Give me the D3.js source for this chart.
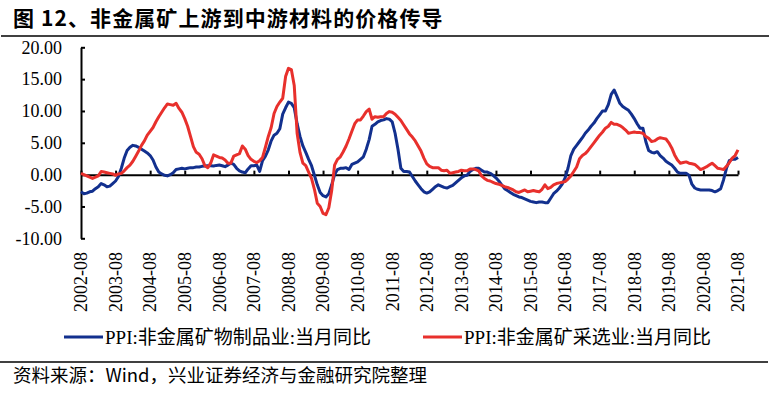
<!doctype html>
<html>
<head>
<meta charset="UTF-8">
<title>非金属矿价格传导</title>
<script src="https://d3js.org/d3.v7.min.js"></script>
<style>
  body { margin: 0; background: #fff; }
  svg text { fill: #000; }
</style>
</head>
<body>
<svg id="chart" width="777" height="394"></svg>
<script>
// 非金属矿物制品业 PPI 当月同比 (2002-08 .. 2021-08, monthly)
var blueVals = [
  -2.7, -3.0, -2.9, -2.7, -2.6, -2.2, -1.9, -1.4, -1.6, -1.9, -1.8, -1.4,
  -1.0, -0.3, 1.0, 2.6, 3.8, 4.3, 4.6, 4.5, 4.3, 4.0, 3.7, 3.4,
  3.0, 2.3, 1.2, 0.4, 0.1, -0.1, -0.2, 0.0, 0.3, 0.8, 0.9, 1.0,
  0.9, 1.0, 1.1, 1.1, 1.2, 1.2, 1.3, 1.35, 1.4, 1.4, 1.35, 1.45,
  1.5, 1.4, 1.25, 1.5, 1.8, 1.6, 1.0, 0.6, 0.4, 0.3, 0.9, 1.4,
  1.4, 1.5, 0.5, 2.2, 2.9, 3.9, 5.3, 6.2, 6.5, 7.2, 9.5, 10.5,
  11.4, 11.2, 10.5, 8.0, 6.0, 4.5, 3.5, 2.4, 1.4, -0.1, -1.6, -2.8,
  -3.3, -3.5, -3.0, -1.6, 0.0, 0.8, 1.0, 1.0, 1.1, 0.8, 1.6, 1.8,
  2.0, 2.4, 2.8, 4.0, 5.5, 7.6, 7.9, 8.3, 8.5, 8.6, 8.8, 8.7,
  8.3, 6.5, 4.0, 1.0, 0.5, 0.5, 0.4, -0.3, -1.0, -1.6, -2.2, -2.7,
  -2.9, -2.7, -2.3, -1.9, -1.6, -1.8, -2.0, -2.1, -1.9, -1.7, -1.3, -0.9,
  -0.5, -0.2, -0.1, 0.5, 0.8, 1.0, 1.0, 0.7, 0.4, 0.4, 0.2, -0.1,
  -0.5, -1.0, -1.6, -2.2, -2.5, -2.8, -3.1, -3.3, -3.5, -3.6, -3.8, -4.0,
  -4.2, -4.3, -4.4, -4.3, -4.3, -4.4, -4.4, -3.7, -3.0, -2.6, -2.1, -1.5,
  -0.5, 1.0, 3.0, 4.0, 4.6, 5.2, 5.8, 6.5, 7.0, 7.6, 8.1, 8.8,
  9.4, 10.0, 10.0, 11.0, 12.6, 13.3, 12.3, 11.2, 10.7, 10.4, 10.1, 9.5,
  8.8, 8.0, 7.3, 7.3, 5.2, 3.8, 3.5, 3.4, 3.6, 3.0, 2.6, 2.1,
  1.8, 1.5, 1.0, 0.4, 0.2, 0.2, 0.2, -0.1, -1.5, -2.1, -2.3, -2.4,
  -2.4, -2.4, -2.4, -2.5, -2.7, -2.5, -2.2, -0.8, 1.0, 2.2, 2.4, 2.4, 2.7
];

// 非金属矿采选业 PPI 当月同比
var redVals = [
  0.2, 0.0, -0.2, -0.4, -0.6, -0.4, -0.2, 0.5, 0.4, 0.3, 0.2, 0.1,
  -0.1, 0.1, 0.2, 0.6, 1.1, 1.5, 2.1, 2.9, 3.7, 4.6, 5.3, 6.2,
  6.8, 7.4, 8.3, 9.1, 9.8, 10.5, 11.1, 11.0, 10.9, 11.2, 10.4, 9.8,
  8.8, 7.6, 6.0, 4.4, 3.5, 3.2, 2.5, 1.4, 1.1, 1.8, 3.1, 2.9,
  2.7, 2.6, 2.3, 1.8, 1.8, 2.9, 3.1, 3.3, 4.5, 4.0, 3.0, 2.4,
  2.1, 1.9, 2.2, 2.7, 4.3, 6.0, 7.4, 9.6, 10.7, 11.4, 12.0, 15.4,
  16.7, 16.5, 14.0, 6.5, 3.5, 1.8, 1.4, 0.4, -0.6, -2.3, -4.5, -5.0,
  -6.1, -6.3, -5.2, -2.5, 1.5, 2.4, 2.8, 3.6, 4.5, 5.6, 6.8, 8.0,
  8.6, 8.6, 9.2, 9.9, 10.3, 8.7, 9.1, 9.0, 9.1, 9.1, 9.6, 9.9,
  9.8, 9.5, 9.0, 8.5, 7.8, 7.1, 6.4, 5.9, 5.3, 4.5, 3.7, 2.6,
  1.7, 1.3, 1.1, 1.1, 1.1, 0.7, 0.6, 0.7, 0.2, 0.3, 0.4, 0.5,
  0.7, 0.6, 0.6, 0.9, 0.9, 0.8, 0.6, -0.2, -0.6, -0.9, -1.0, -1.2,
  -1.4, -1.5, -1.7, -1.9, -2.0, -2.2, -2.4, -2.7, -2.8, -2.6, -2.4, -2.7,
  -2.6, -2.5, -2.6, -2.7, -2.3, -1.6, -2.2, -2.0, -1.6, -1.4, -1.3, -1.2,
  -1.1, -0.7, -0.2, 0.5, 1.2, 2.5, 3.0, 3.3, 3.8, 4.4, 5.0, 5.6,
  6.2, 6.7, 7.3, 7.6, 8.2, 7.9, 7.9, 7.7, 7.4, 7.0, 6.5, 6.6,
  6.7, 6.6, 6.6, 6.5, 6.0, 5.7, 5.2, 5.3, 5.6, 5.8, 5.7, 5.6,
  5.0, 4.2, 3.1, 2.3, 1.8, 1.9, 2.0, 1.8, 1.7, 1.6, 1.2, 0.8,
  1.0, 1.2, 1.5, 1.8, 1.4, 1.0, 0.9, 0.8, 1.3, 1.9, 2.6, 3.0, 3.9
];

var tickLabels = ["2002-08", "2003-08", "2004-08", "2005-08", "2006-08", "2007-08",
  "2008-08", "2009-08", "2010-08", "2011-08", "2012-08", "2013-08", "2014-08",
  "2015-08", "2016-08", "2017-08", "2018-08", "2019-08", "2020-08", "2021-08"];
var yTicks = [-10, -5, 0, 5, 10, 15, 20];

var seriesNames = ["PPI:非金属矿物制品业:当月同比", "PPI:非金属矿采选业:当月同比"];
var colors = ["#12308e", "#e8302c"];

var title = "图 12、非金属矿上游到中游材料的价格传导";
var source = "资料来源：Wind，兴业证券经济与金融研究院整理";

// monthly category labels
var fmt = d3.timeFormat("%Y-%m");
var months = d3.timeMonth.range(new Date(2002, 7, 1), new Date(2021, 8, 1)).map(fmt);

var svg = d3.select("#chart");
var serif = "'Liberation Serif','Times New Roman','Noto Sans CJK SC',serif";

var x = d3.scalePoint().domain(months).range([81, 738]);
var y = d3.scaleLinear().domain([-10, 20]).range([238.3, 47.3]);

// title
svg.append("text")
   .attr("x", 13).attr("y", 26)
   .attr("font-family", "'Noto Sans CJK SC',sans-serif")
   .attr("font-weight", "bold")
   .attr("font-size", 21)
   .attr("letter-spacing", 1.1)
   .text(title);

svg.append("line")
   .attr("x1", 1).attr("x2", 769).attr("y1", 36).attr("y2", 36)
   .attr("stroke", "#000").attr("stroke-width", 1.6);

// y axis
var yAxis = svg.append("g")
   .attr("transform", "translate(81,0)")
   .call(d3.axisLeft(y).tickValues(yTicks)
      .tickSizeInner(-4).tickSizeOuter(0).tickPadding(19)
      .tickFormat(function(d){ return d.toFixed(2); }));
yAxis.selectAll("path,line").attr("stroke", "#000").attr("stroke-width", 2);
yAxis.selectAll("text")
   .attr("font-family", serif).attr("font-size", 18).attr("fill", "#000");

// zero axis
var xAxis = svg.append("g")
   .attr("transform", "translate(0," + y(0) + ")")
   .call(d3.axisBottom(x).tickValues(tickLabels)
      .tickSizeInner(-4).tickSizeOuter(0).tickFormat(""));
xAxis.selectAll("path,line").attr("stroke", "#000").attr("stroke-width", 2);

// x labels, rotated
svg.append("g").selectAll("text")
   .data(tickLabels)
   .enter().append("text")
   .attr("transform", function(d){ return "translate(" + x(d) + ",252) rotate(-90)"; })
   .attr("text-anchor", "end")
   .attr("dy", "0.35em")
   .attr("font-family", serif)
   .attr("font-size", 18)
   .text(function(d){ return d; });

// lines
var line = d3.line()
   .x(function(d, i){ return x(months[i]); })
   .y(function(d){ return y(d); });

[blueVals, redVals].forEach(function(vals, k){
    svg.append("path")
       .datum(vals)
       .attr("d", line)
       .attr("fill", "none")
       .attr("stroke", colors[k])
       .attr("stroke-width", 3)
       .attr("stroke-linejoin", "round");
});

// legend
var legendX = [64, 423];
seriesNames.forEach(function(name, k){
    svg.append("line")
       .attr("x1", legendX[k]).attr("x2", legendX[k] + 39)
       .attr("y1", 337).attr("y2", 337)
       .attr("stroke", colors[k]).attr("stroke-width", 3);
    svg.append("text")
       .attr("x", legendX[k] + 41).attr("y", 337)
       .attr("dy", "0.35em")
       .attr("font-family", serif)
       .attr("font-size", 19)
       .text(name);
});

svg.append("line")
   .attr("x1", 0).attr("x2", 768).attr("y1", 362).attr("y2", 362)
   .attr("stroke", "#000").attr("stroke-width", 1.6);

svg.append("text")
   .attr("x", 13).attr("y", 376)
   .attr("dy", "0.35em")
   .attr("font-family", "'Noto Sans CJK SC',sans-serif")
   .attr("font-size", 18.5)
   .text(source);
</script>
</body>
</html>
